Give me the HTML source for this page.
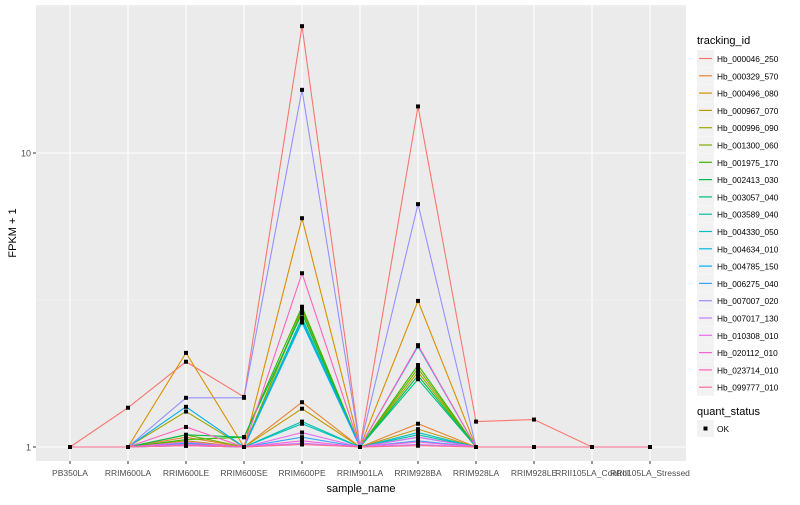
<!DOCTYPE html>
<html><head><meta charset="utf-8"><style>
body{margin:0;background:#fff;font-family:"Liberation Sans",sans-serif;}
svg text{font-family:"Liberation Sans",sans-serif;}
</style></head><body>
<svg id="chart" width="800" height="500">
<rect x="0" y="0" width="800" height="500" fill="#fff"/>
<rect x="36" y="5" width="650" height="456" fill="#EBEBEB"/>
<g id="grid"></g><g id="lines"></g><g id="pts"></g><g id="axes"></g><g id="legend"></g>
</svg>
<script>
const categories=["PB350LA","RRIM600LA","RRIM600LE","RRIM600SE","RRIM600PE","RRIM901LA","RRIM928BA","RRIM928LA","RRIM928LE","RRII105LA_Control","RRII105LA_Stressed"];
const seriesNames=["Hb_000046_250","Hb_000329_570","Hb_000496_080","Hb_000967_070","Hb_000996_090","Hb_001300_060","Hb_001975_170","Hb_002413_030","Hb_003057_040","Hb_003589_040","Hb_004330_050","Hb_004634_010","Hb_004785_150","Hb_006275_040","Hb_007007_020","Hb_007017_130","Hb_010308_010","Hb_020112_010","Hb_023714_010","Hb_099777_010"];
const seriesColors=["#F8766D","#EA8331","#D89000","#C09B00","#A3A500","#7CAE00","#39B600","#00BB4E","#00BF7D","#00C1A3","#00BFC4","#00BAE0","#00B0F6","#35A2FF","#9590FF","#C77CFF","#E76BF3","#FA62DB","#FF62BC","#FF6C91"];
const s01=[1,1.36,1.95,1.48,27,1,14.4,1.22,1.24,1,1];
const s02=[1,1,1.08,1,1.42,1,1.2,1,1,1,1];
const s03=[1,1,2.09,1,6.0,1,3.14,1,1,1,1];
const s04=[1,1,1.05,1,1.35,1,1.15,1,1,1,1];
const s05=[1,1,1.32,1,2.9,1,1.8,1,1,1,1];
const s06=[1,1,1.1,1,2.95,1,1.85,1,1,1,1];
const s07=[1,1,1.06,1.08,3.0,1,1.9,1,1,1,1];
const s08=[1,1,1.1,1.08,2.85,1,1.75,1,1,1,1];
const s09=[1,1,1.03,1,2.75,1,1.7,1,1,1,1];
const s10=[1,1,1.02,1,1.22,1,1.1,1,1,1,1];
const s11=[1,1,1.02,1,1.2,1,1.12,1,1,1,1];
const s12=[1,1,1.01,1,2.7,1,1.08,1,1,1,1];
const s13=[1,1,1.37,1,2.65,1,2.2,1,1,1,1];
const s14=[1,1,1.03,1,1.08,1,1.05,1,1,1,1];
const s15=[1,1,1.47,1.47,16.4,1,6.7,1,1,1,1];
const s16=[1,1,1.01,1,1.03,1,1.02,1,1,1,1];
const s17=[1,1,1.04,1,1.12,1,1.08,1,1,1,1];
const s18=[1,1,1.02,1,1.05,1,1.04,1,1,1,1];
const s19=[1,1,1.17,1,3.9,1,2.22,1,1,1,1];
const s20=[1,1,1.01,1,1.02,1,1.01,1,1,1,1];
const seriesValues=[s01,s02,s03,s04,s05,s06,s07,s08,s09,s10,s11,s12,s13,s14,s15,s16,s17,s18,s19,s20];
const yTickValues=[1,10];
const yTickLabels=["1","10"];

const NS="http://www.w3.org/2000/svg";
function mk(tag,attrs,parent){const e=document.createElementNS(NS,tag);for(const k in attrs)e.setAttribute(k,attrs[k]);parent.appendChild(e);return e;}
const xScale=i=>70+i*58;
const yScale=v=>447-Math.log10(v)*294;
const grid=document.getElementById('grid'),lines=document.getElementById('lines'),pts=document.getElementById('pts'),axes=document.getElementById('axes'),legend=document.getElementById('legend');
[Math.sqrt(10),Math.sqrt(10)*10].forEach(v=>{const y=yScale(v);if(y>5){const l=mk('line',{x1:36,x2:686,y1:y,y2:y,stroke:'#F5F5F5','stroke-width':0.6},grid);

}});
yTickValues.forEach((v,i)=>{const y=yScale(v);
const g=mk('line',{x1:36,x2:686,y1:y,y2:y,stroke:'#fff','stroke-width':1.1},grid);


const t=mk('line',{x1:33,x2:36,y1:y,y2:y,stroke:'#333','stroke-width':1},axes);


const tx=mk('text',{x:31,y:y+3.5,'text-anchor':'end','font-size':9,fill:'#4D4D4D'},axes);tx.textContent=yTickLabels[i];

});
categories.forEach((c,i)=>{const x=xScale(i);
const g=mk('line',{x1:x,x2:x,y1:5,y2:461,stroke:'#fff','stroke-width':1.1},grid);


const t=mk('line',{x1:x,x2:x,y1:461,y2:464,stroke:'#333','stroke-width':1},axes);


const tx=mk('text',{x:x,y:476,'text-anchor':'middle','font-size':8.5,fill:'#4D4D4D'},axes);tx.textContent=c;

});
const xt=mk('text',{x:361,y:492,'text-anchor':'middle','font-size':11,fill:'#000'},axes);xt.textContent='sample_name';


const yt=mk('text',{x:16,y:233,'text-anchor':'middle','font-size':11,fill:'#000',transform:'rotate(-90 16 233)'},axes);yt.textContent='FPKM + 1';


for(let s=0;s<seriesValues.length;s++){const vals=seriesValues[s];
const p=mk('polyline',{points:vals.map((v,i)=>xScale(i)+','+yScale(v)).join(' '),fill:'none',stroke:seriesColors[s],'stroke-width':1.1},lines);


vals.forEach((v,i)=>{const r=mk('rect',{x:xScale(i)-2,y:yScale(v)-2,width:4,height:4,fill:'#000'},pts);

});}
const lt=mk('text',{x:697,y:44,'font-size':11,fill:'#000'},legend);lt.textContent='tracking_id';


seriesNames.forEach((n,i)=>{const y=50+i*17.3;
const bg=mk('rect',{x:697,y:y,width:17,height:17,fill:'#F2F2F2'},legend);


const l=mk('line',{x1:699,x2:712,y1:y+8.5,y2:y+8.5,stroke:seriesColors[i],'stroke-width':1.2},legend);


const t=mk('text',{x:717,y:y+12,'font-size':8.3,fill:'#000'},legend);t.textContent=n;

});
const qt=mk('text',{x:697,y:415,'font-size':11,fill:'#000'},legend);qt.textContent='quant_status';


const qb=mk('rect',{x:697,y:420,width:17,height:17,fill:'#F2F2F2'},legend);


const qp=mk('rect',{x:703.5,y:426.5,width:4,height:4,fill:'#000'},legend);


const qtx=mk('text',{x:717,y:432,'font-size':8.3,fill:'#000'},legend);qtx.textContent='OK';


</script>
</body></html>
